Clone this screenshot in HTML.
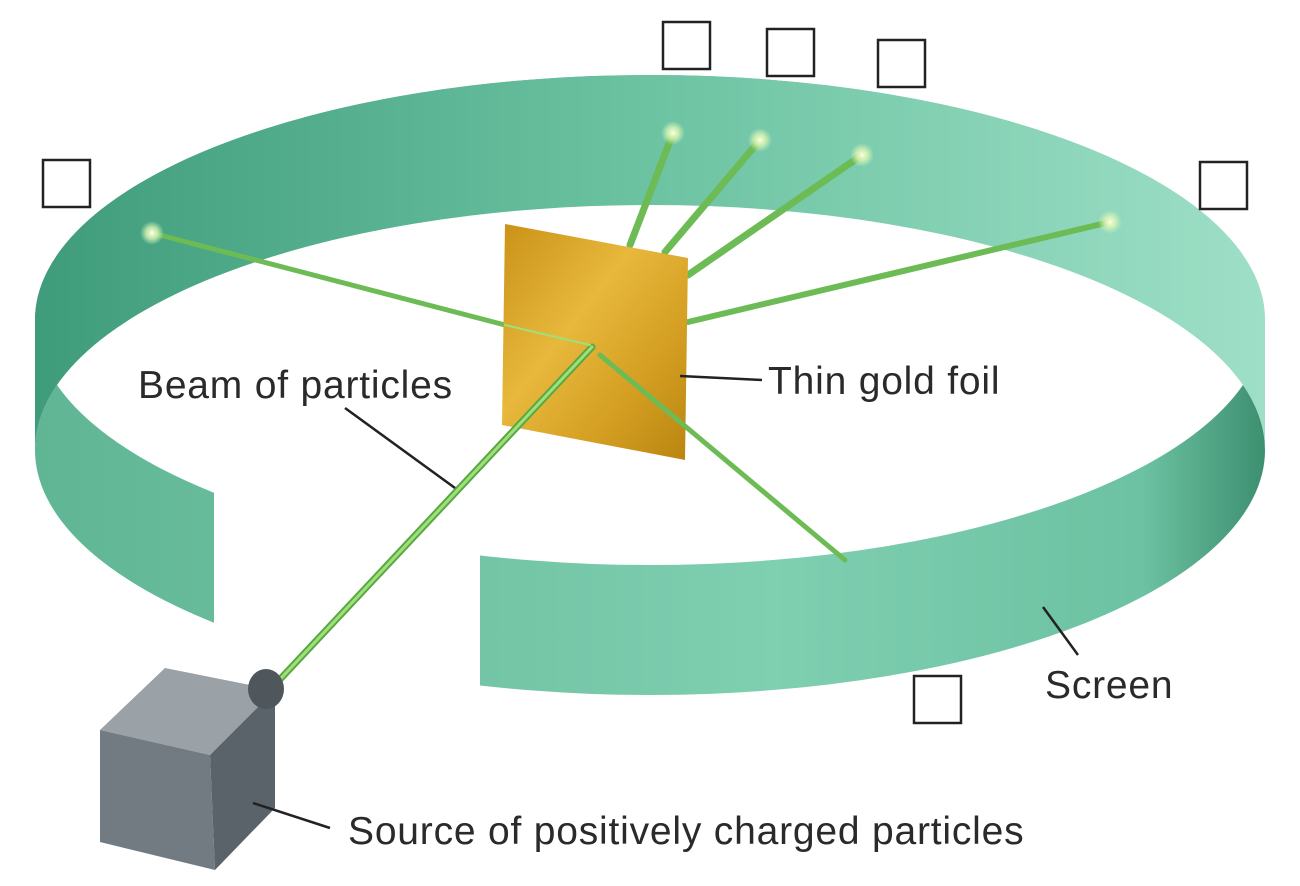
<!DOCTYPE html>
<html><head><meta charset="utf-8"><style>
html,body{margin:0;padding:0;background:#fff;}
svg{display:block;}
text{font-family:"Liberation Sans",sans-serif;font-size:39px;letter-spacing:0.8px;fill:#2a2a2a;}
</style></head><body>
<svg width="1300" height="886" viewBox="0 0 1300 886">
<defs>
<linearGradient id="band" x1="0" x2="1" y1="0" y2="0">
<stop offset="0" stop-color="#3f9c7b"/><stop offset="0.5" stop-color="#6cc3a2"/><stop offset="1" stop-color="#9edfc7"/>
</linearGradient>
<linearGradient id="front" x1="0" x2="1" y1="0" y2="0">
<stop offset="0" stop-color="#5fb594"/><stop offset="0.6" stop-color="#7fcfb1"/><stop offset="0.9" stop-color="#6cc2a2"/><stop offset="1" stop-color="#3d8f70"/>
</linearGradient>
<linearGradient id="gold" x1="0" x2="1" y1="0" y2="1">
<stop offset="0" stop-color="#c99217"/><stop offset="0.4" stop-color="#e7b83c"/><stop offset="0.7" stop-color="#d49f22"/><stop offset="1" stop-color="#b98510"/>
</linearGradient>
<radialGradient id="glow"><stop offset="0" stop-color="#ffffe8"/><stop offset="0.5" stop-color="#d8f4b0" stop-opacity="0.8"/><stop offset="1" stop-color="#c8f0c0" stop-opacity="0"/></radialGradient>
<clipPath id="hole"><ellipse cx="650" cy="320" rx="615" ry="245"/></clipPath>
</defs>

<g>
<ellipse cx="650" cy="320" rx="615" ry="245" fill="url(#band)"/>
<ellipse cx="650" cy="450" rx="615" ry="245" fill="url(#front)"/>
<path d="M35,320 A615,245 0 0 1 1265,320 L1265,450 A615,245 0 0 0 35,450 Z" fill="url(#band)"/>
<ellipse cx="650" cy="450" rx="615" ry="245" fill="#fff" clip-path="url(#hole)"/>
</g>
<path d="M214,470 L480,530 L480,720 L214,720 Z" fill="#fff"/>

<g stroke-linecap="round">
<line x1="152" y1="233" x2="505" y2="325" stroke="#6dbb55" stroke-width="5"/>
<line x1="630" y1="245" x2="673" y2="133" stroke="#6dbb55" stroke-width="7"/>
<line x1="665" y1="252" x2="760" y2="140" stroke="#6dbb55" stroke-width="7"/>
<line x1="688" y1="275" x2="862" y2="155" stroke="#6dbb55" stroke-width="7"/>
<line x1="688" y1="322" x2="1110" y2="222" stroke="#6dbb55" stroke-width="6"/>
</g>

<polygon points="505,224 688,258 685,460 502,425" fill="url(#gold)"/>

<g stroke-linecap="round">
<line x1="270" y1="690" x2="592" y2="347" stroke="#5aa844" stroke-width="7"/>
<line x1="270" y1="690" x2="592" y2="347" stroke="#9fe07a" stroke-width="3"/>
<line x1="600" y1="355" x2="845" y2="560" stroke="#6dbb55" stroke-width="5"/>
<line x1="505" y1="325" x2="590" y2="345" stroke="#9fe07a" stroke-width="2"/>
</g>

<g>
<circle cx="152" cy="233" r="12" fill="url(#glow)"/>
<circle cx="673" cy="133" r="12" fill="url(#glow)"/>
<circle cx="760" cy="140" r="12" fill="url(#glow)"/>
<circle cx="862" cy="155" r="12" fill="url(#glow)"/>
<circle cx="1110" cy="222" r="12" fill="url(#glow)"/>
</g>

<g fill="#fff" stroke="#222" stroke-width="2.5">
<rect x="663" y="22" width="47" height="47"/>
<rect x="767" y="29" width="47" height="47"/>
<rect x="878" y="40" width="47" height="47"/>
<rect x="43" y="160" width="47" height="47"/>
<rect x="1200" y="162" width="47" height="47"/>
<rect x="914" y="676" width="47" height="47"/>
</g>

<g>
<polygon points="100,730 165,668 275,690 210,755" fill="#9aa2a8"/>
<polygon points="100,730 210,755 215,870 100,842" fill="#737b82"/>
<polygon points="210,755 275,690 275,808 215,870" fill="#5b636a"/>
<ellipse cx="266" cy="689" rx="18" ry="20" fill="#4f565c"/>
</g>

<g stroke="#222" stroke-width="2.5">
<line x1="345" y1="408" x2="455" y2="488"/>
<line x1="680" y1="376" x2="762" y2="380"/>
<line x1="1043" y1="607" x2="1078" y2="655"/>
<line x1="253" y1="803" x2="330" y2="828"/>
</g>
<text x="138" y="398">Beam of particles</text>
<text x="768" y="394">Thin gold foil</text>
<text x="1045" y="698">Screen</text>
<text x="348" y="844">Source of positively charged particles</text>
</svg>
</body></html>
